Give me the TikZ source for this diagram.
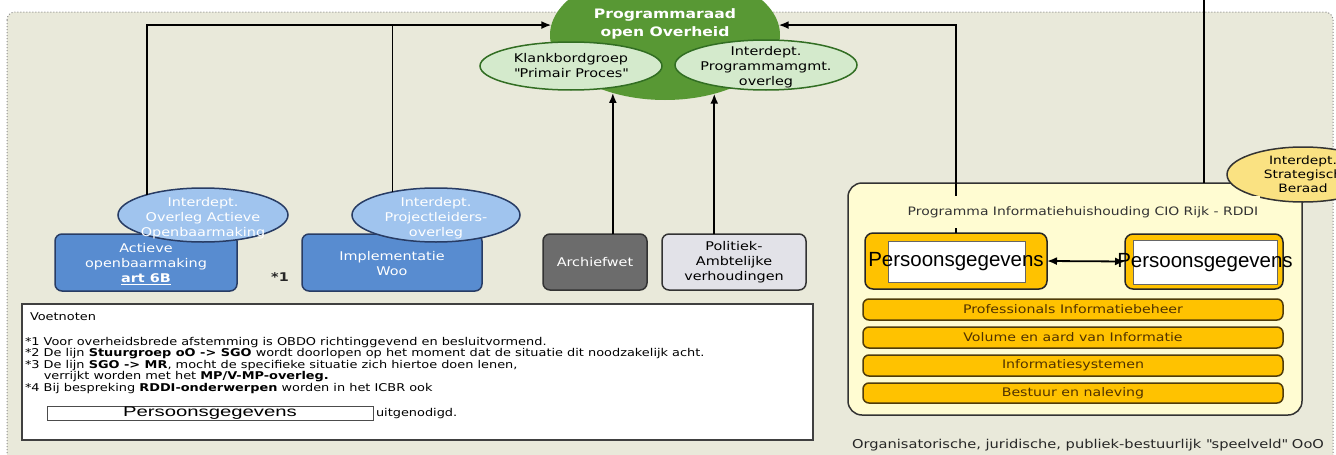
\documentclass[tikz,border=0pt]{standalone}
\usepackage{fontspec}
\setmainfont{DejaVu Sans}[FakeStretch=1.2]
\newfontfamily\arialf{Liberation Sans}
\usetikzlibrary{arrows.meta,shapes.geometric}
\definecolor{beige}{RGB}{233,233,218}
\definecolor{dotgray}{RGB}{140,140,140}
\definecolor{grn}{RGB}{88,152,52}
\definecolor{grnd}{RGB}{50,110,35}
\definecolor{lgrn}{RGB}{212,234,204}
\definecolor{lblue}{RGB}{160,196,238}
\definecolor{bluebox}{RGB}{88,140,208}
\definecolor{blued}{RGB}{40,60,100}
\definecolor{archg}{RGB}{108,108,108}
\definecolor{polg}{RGB}{226,226,232}
\definecolor{orng}{RGB}{255,194,0}
\definecolor{orngd}{RGB}{80,60,10}
\definecolor{progy}{RGB}{255,252,210}
\definecolor{isby}{RGB}{250,226,130}
\definecolor{brn}{RGB}{80,50,0}
\begin{document}
\begin{tikzpicture}[x=1pt,y=-1pt,
  every node/.style={inner sep=0pt, outer sep=0pt, font=\fontsize{12}{15}\selectfont},
  arr/.style={line width=1.8pt, -{Latex[length=10pt,width=8pt]}},
  conn/.style={line width=1.8pt},
  gell/.style={ellipse, draw=grnd, line width=1.5pt, fill=lgrn},
  blueell/.style={ellipse, draw=blued, line width=1.5pt, fill=lblue},
  eltext/.style={align=center},
  bbox/.style={rectangle, rounded corners=7pt, draw=blued, line width=1.5pt, fill=bluebox, text=white, align=center},
  gbox/.style={rectangle, rounded corners=7pt, draw=black!80, line width=1.5pt, align=center},
  obox/.style={rectangle, rounded corners=8pt, draw=black!85, line width=1.5pt, fill=orng},
  wbox/.style={rectangle, fill=white, draw=black!60, line width=0.6pt},
  pgtext/.style={font=\arialf\fontsize{20.5}{22}\selectfont},
  bar/.style={rectangle, rounded corners=6pt, draw=orngd, line width=1.5pt, fill=orng, minimum width=420pt, minimum height=21pt, text=brn, font=\fontsize{11.8}{13}\selectfont},
  fnfont/.style={font=\fontsize{10.75}{11.6}\selectfont}
]
\useasboundingbox (0,0) rectangle (1336,455);
\clip (0,0) rectangle (1336,455);
\fill[white] (0,0) rectangle (1336,455);
\draw[dotgray, dotted, line width=1pt, fill=beige, rounded corners=8pt] (7,12) rectangle (1333,480);

% central council
\node[ellipse, fill=grn, minimum width=230pt, minimum height=130pt] (pr) at (665,35) {};
\node[eltext, text=white, font=\bfseries\fontsize{13}{18}\selectfont] (prt) at (665,24) {Programmaraad\\open Overheid};
\node[gell, minimum width=182pt, minimum height=48pt] (kb) at (571,66) {};
\node[eltext] (kbt) at (kb) {Klankbordgroep\\\textquotedbl Primair Proces\textquotedbl};
\node[gell, minimum width=182pt, minimum height=50pt] (ipm) at (766,65) {};
\node[eltext] (ipmt) at (766,67) {Interdept.\\Programmamgmt.\\overleg};

% blue boxes and ellipses
\node[bbox, minimum width=182pt, minimum height=57pt] (act) at (146,262.5) {};
\node[eltext, text=white] (actt) at (146,264) {Actieve\\openbaarmaking\\\underline{\textbf{art 6B}}};
\node[bbox, minimum width=180pt, minimum height=57pt] (imp) at (392,262.5) {};
\node[eltext, text=white] (impt) at (392,264) {Implementatie\\Woo};
\node[blueell, minimum width=170pt, minimum height=54pt] (ioa) at (203,215) {};
\node[eltext, text=white] (ioat) at (203,218) {Interdept.\\Overleg Actieve\\Openbaarmaking};
\node[blueell, minimum width=168pt, minimum height=54pt] (ipo) at (436,215) {};
\node[eltext, text=white] (ipot) at (436,218) {Interdept.\\Projectleiders-\\overleg};
\node[font=\bfseries\fontsize{12}{14}\selectfont, text=black!85] (n1) at (280,277) {*1};

% grey boxes
\node[gbox, fill=archg, text=white, minimum width=104pt, minimum height=56pt] (arch) at (595,262) {Archiefwet};
\node[gbox, fill=polg, minimum width=144pt, minimum height=56pt] (pol) at (734,262) {};
\node[eltext] (polt) at (734,262) {Politiek-\\Ambtelijke\\verhoudingen};

% footnotes
\node[draw=black!75, line width=1.5pt, fill=white, minimum width=791pt, minimum height=136pt] (fn) at (417.5,372) {};
\node[anchor=west, fnfont] (fnh) at (30,317) {Voetnoten};
\node[anchor=north west, align=left, fnfont] (fnt) at (25,337) {%
*1 Voor overheidsbrede afstemming is OBDO richtinggevend en besluitvormend.\\
*2 De lijn \textbf{Stuurgroep oO -> SGO} wordt doorlopen op het moment dat de situatie dit noodzakelijk acht.\\
*3 De lijn \textbf{SGO -> MR}, mocht de specifieke situatie zich hiertoe doen lenen,\\
\phantom{*3 }verrijkt worden met het \textbf{MP/V-MP-overleg.}\\
*4 Bij bespreking \textbf{RDDI-onderwerpen} worden in het ICBR ook};
\node[draw=black!70, line width=1pt, fill=white, minimum width=326pt, minimum height=14pt] (fpg) at (210,413.5) {};
\node[font=\arialf\fontsize{14}{14}\selectfont] (fpgt) at (210,413) {\scalebox{1.45}[1]{Persoonsgegevens}};
\node[anchor=west, fnfont] (uit) at ([xshift=3pt]fpg.east) {uitgenodigd.};

% programme box
\node[draw=black!80, line width=1.5pt, fill=progy, rounded corners=14pt, minimum width=454pt, minimum height=232pt] (prog) at (1075,299) {};
\node[obox, minimum width=182pt, minimum height=56pt] (pg1) at (956,261) {};
\node[wbox, minimum width=137pt, minimum height=41pt] (pg1w) at (956.5,261.5) {};
\node[pgtext] (pg1t) at (956,262) {Persoonsgegevens};
\node[obox, minimum width=158pt, minimum height=55pt] (pg2) at (1204,261.5) {};
\node[wbox, minimum width=144pt, minimum height=44pt] (pg2w) at (1205,262) {};
\node[pgtext] (pg2t) at (1205,263) {Persoonsgegevens};
\node[bar] (b1) at (1073,309.5) {Professionals Informatiebeheer};
\node[bar] (b2) at (1073,337.5) {Volume en aard van Informatie};
\node[bar] (b3) at (1073,365.5) {Informatiesystemen};
\node[bar, minimum height=20pt] (b4) at (1073,393) {Bestuur en naleving};

\node[ellipse, draw=black!80, line width=1.5pt, fill=isby, minimum width=152pt, minimum height=55pt] (isb) at (1303,174.5) {};
\node[eltext, font=\fontsize{11.5}{14}\selectfont] (isbt) at (1303,174.5) {Interdept.\\Strategisch\\Beraad};

\node[font=\fontsize{12.2}{13}\selectfont, text=black!85] (spv) at (1088,445) {Organisatorische, juridische, publiek-bestuurlijk \textquotedbl speelveld\textquotedbl{} OoO};

% connectors
\draw[arr] (ioa.160) -- (ioa.160 |- pr.175) -- (pr.175);
\draw[conn] (ipo.152) -- (ipo.152 |- pr.175);
\draw[arr] (pr.228 |- arch.north) -- (pr.228);
\draw[arr] (pr.310 |- pol.north) -- (pr.310);
\draw[arr] (pg1.north) -- (pg1.north |- pr.5) -- (pr.5);
\coordinate (topc) at (1204,0);
\draw[conn] (topc) -- (topc |- prog.north);
\draw[conn, {Latex[length=10pt,width=8pt]}-{Latex[length=10pt,width=8pt]}] (pg1.east) -- (pg2.west);
\node[fill=progy, inner xsep=2pt, inner ysep=10pt, font=\fontsize{11.6}{12}\selectfont, text=black!80] (ptitle) at (1083,212) {Programma Informatiehuishouding CIO Rijk - RDDI};
\end{tikzpicture}
\end{document}
